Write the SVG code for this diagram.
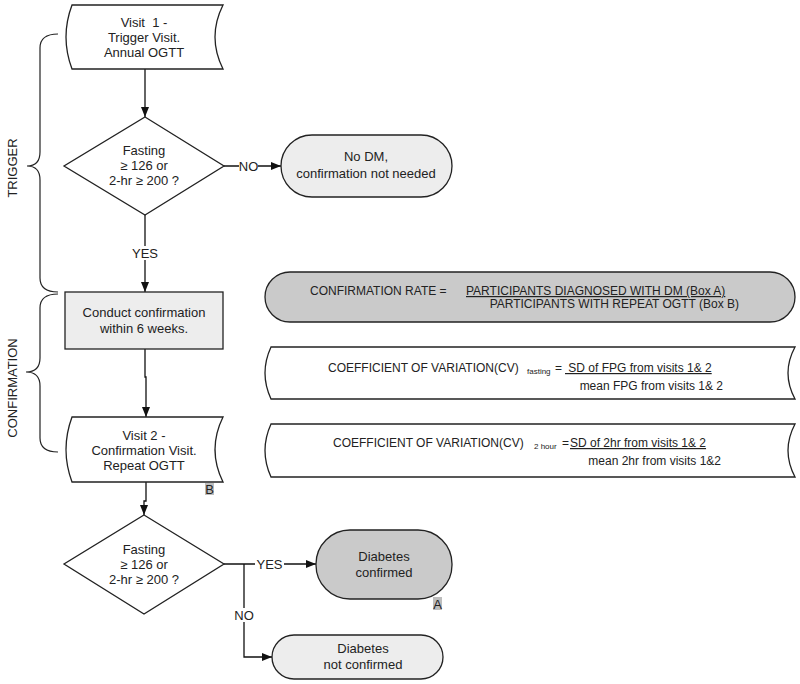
<svg xmlns="http://www.w3.org/2000/svg" width="800" height="684" viewBox="0 0 800 684">
<defs>
<marker id="arr" markerWidth="10" markerHeight="8" refX="10" refY="4" orient="auto" markerUnits="userSpaceOnUse">
<path d="M0,0 L10,4 L0,8 Z" fill="#111"/>
</marker>
</defs>
<style>
text{font-family:"Liberation Sans",Arial,sans-serif;fill:#222;}
.t13{font-size:13px;text-anchor:middle;}
.t12{font-size:12px;}
.sub{font-size:8px;}
.shape{stroke:#222;stroke-width:1.3;}
.white{fill:#fff;}
.light{fill:#ededed;}
.dark{fill:#cacaca;}
.conn{fill:none;stroke:#111;stroke-width:1.3;}
.brace{fill:none;stroke:#222;stroke-width:1.2;}
.lbl{fill:#fff;}
.tag{fill:#bdbdbd;}
.u{text-decoration:underline;}
</style>
<rect width="800" height="684" fill="#fff"/>

<g id="braces">
<path class="brace" d="M58,34 Q40,34 40,48 L40,152 Q40,166 27,166 Q40,166 40,180 L40,278 Q40,292 58,292"/>
<path class="brace" d="M58,294 Q40,294 40,308 L40,358 Q40,372 26,372 Q40,372 40,386 L40,438 Q40,452 58,452"/>
<text class="t13" transform="translate(17,168) rotate(-90)">TRIGGER</text>
<text class="t13" transform="translate(17,388) rotate(-90)">CONFIRMATION</text>
</g>

<g id="connectors">
<path class="conn" d="M145,69 V117" marker-end="url(#arr)"/>
<path class="conn" d="M224,166 H281" marker-end="url(#arr)"/>
<path class="conn" d="M145,215 V292" marker-end="url(#arr)"/>
<path class="conn" d="M145,349 V377 H146 V417" marker-end="url(#arr)"/>
<path class="conn" d="M146,482 V501 H144 V515" marker-end="url(#arr)"/>
<path class="conn" d="M224,564 H316" marker-end="url(#arr)"/>
<path class="conn" d="M244,564 V657 H272" marker-end="url(#arr)"/>
<rect class="lbl" x="239" y="159" width="19" height="14"/>
<text class="t13" x="248.5" y="170.5">NO</text>
<rect class="lbl" x="130" y="246" width="30" height="14"/>
<text class="t13" x="145" y="257.5">YES</text>
<rect class="lbl" x="255" y="557" width="29" height="14"/>
<text class="t13" x="269.5" y="568.5">YES</text>
<rect class="lbl" x="234" y="608" width="20" height="14"/>
<text class="t13" x="244" y="619.5">NO</text>
</g>

<g id="visit1">
<path class="shape white" d="M72,5 L223,5 Q207,37 223,69 L72,69 Q60,37 72,5 Z"/>
<text class="t13" x="144" y="27" xml:space="preserve">Visit  1 -</text>
<text class="t13" x="144" y="42">Trigger Visit.</text>
<text class="t13" x="144" y="57">Annual OGTT</text>
</g>

<g id="decision1">
<path class="shape white" d="M145,117 L224,166 L145,215 L64,166 Z"/>
<text class="t13" x="144" y="155">Fasting</text>
<text class="t13" x="144" y="170">≥ 126 or</text>
<text class="t13" x="144" y="185">2-hr ≥ 200 ?</text>
</g>

<g id="nodm">
<rect class="shape light" x="281" y="135" width="171" height="62" rx="31" ry="31"/>
<text class="t13" x="366" y="161">No DM,</text>
<text class="t13" x="366" y="178">confirmation not needed</text>
</g>

<g id="conduct">
<rect class="shape light" x="65" y="292" width="158" height="57"/>
<text class="t13" x="144" y="317">Conduct confirmation</text>
<text class="t13" x="144" y="333">within 6 weeks.</text>
</g>

<g id="visit2">
<path class="shape white" d="M72,417 L223,417 Q207,449.5 223,482 L72,482 Q60,449.5 72,417 Z"/>
<text class="t13" x="144" y="440">Visit 2 -</text>
<text class="t13" x="144" y="455">Confirmation Visit.</text>
<text class="t13" x="144" y="470">Repeat OGTT</text>
<rect class="tag" x="205" y="483" width="9" height="12"/>
<text class="t13" x="209.5" y="494">B</text>
</g>

<g id="decision2">
<path class="shape white" d="M144,515 L224,564 L144,614 L64,564 Z"/>
<text class="t13" x="144" y="553.5">Fasting</text>
<text class="t13" x="144" y="569">≥ 126 or</text>
<text class="t13" x="144" y="584">2-hr ≥ 200 ?</text>
</g>

<g id="confirmed">
<rect class="shape dark" x="316" y="530" width="136" height="69" rx="34" ry="34"/>
<text class="t13" x="384" y="561">Diabetes</text>
<text class="t13" x="384" y="577">confirmed</text>
<rect class="tag" x="433" y="597" width="9" height="13"/>
<text class="t13" x="437.5" y="608.5">A</text>
</g>

<g id="notconfirmed">
<rect class="shape light" x="272" y="635" width="171" height="44" rx="22" ry="22"/>
<text class="t13" x="363" y="652.5">Diabetes</text>
<text class="t13" x="363" y="669">not confirmed</text>
</g>

<g id="rate">
<rect class="shape dark" x="265" y="272" width="530" height="50" rx="25" ry="25"/>
<text class="t12" x="310" y="295">CONFIRMATION RATE =</text>
<text class="t12 u" x="466" y="295">PARTICIPANTS DIAGNOSED WITH DM (Box A)</text>
<text class="t12" x="739" y="308" text-anchor="end">PARTICIPANTS WITH REPEAT OGTT (Box B)</text>
</g>

<g id="cvfasting">
<path class="shape white" d="M271,347 L795,347 Q781,373 795,399 L271,399 Q259,373 271,347 Z"/>
<text class="t12" x="328" y="372">COEFFICIENT OF VARIATION(CV)</text>
<text class="sub" x="527" y="374">fasting</text>
<text class="t12" x="555" y="372">=</text>
<text class="t12 u" x="565" y="372" xml:space="preserve"> SD of FPG from visits 1&amp; 2</text>
<text class="t12" x="723" y="390" text-anchor="end">mean FPG from visits 1&amp; 2</text>
</g>

<g id="cv2hour">
<path class="shape white" d="M271,424 L795,424 Q781,450.5 795,477 L271,477 Q259,450.5 271,424 Z"/>
<text class="t12" x="333" y="447">COEFFICIENT OF VARIATION(CV)</text>
<text class="sub" x="534" y="449">2 hour</text>
<text class="t12" x="562" y="447">=</text>
<text class="t12 u" x="570" y="447">SD of 2hr from visits 1&amp; 2</text>
<text class="t12" x="721" y="465" text-anchor="end">mean 2hr from visits 1&amp;2</text>
</g>
</svg>
